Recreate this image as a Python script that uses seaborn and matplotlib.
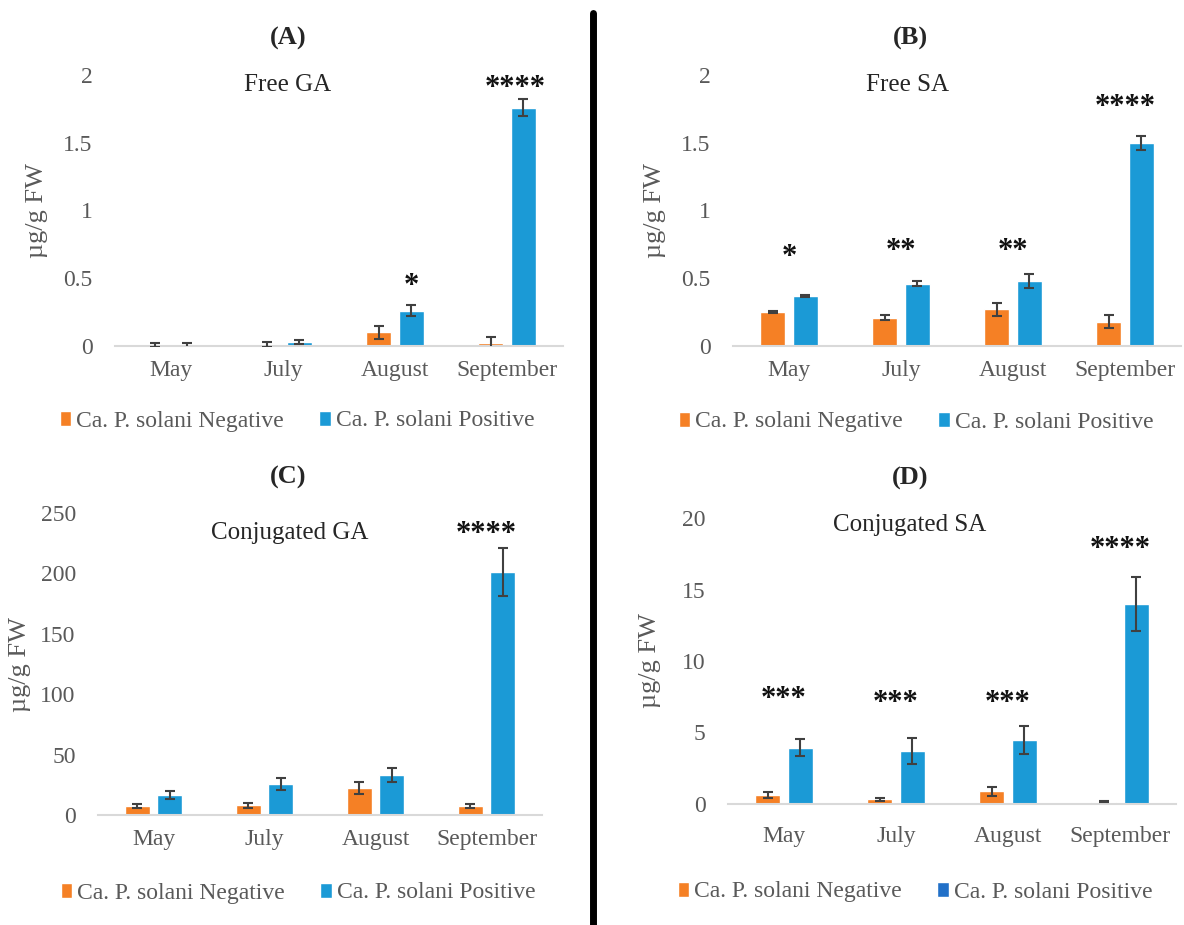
import numpy as np
import pandas as pd
import seaborn as sns
import matplotlib.pyplot as plt
from matplotlib.patches import Patch
from matplotlib.lines import Line2D
from matplotlib.ticker import FuncFormatter

sns.set_style("white")
plt.rcParams['font.family'] = ['Liberation Serif', 'DejaVu Serif']

months = ["May", "July", "August", "September"]
groups = ["Ca. P. solani Negative", "Ca. P. solani Positive"]

# Free GA
free_ga_neg = [0.01, 0.01, 0.10, 0.02]
free_ga_pos = [0.00, 0.03, 0.26, 1.76]
free_ga_neg_err = [0.015, 0.02, 0.05, 0.05]
free_ga_pos_err = [0.02, 0.015, 0.04, 0.06]
free_ga_stars = ["", "", "*", "****"]
free_ga_star_y = [0, 0, 0.44, 1.90]

# Free SA
free_sa_neg = [0.25, 0.21, 0.27, 0.18]
free_sa_pos = [0.37, 0.46, 0.48, 1.50]
free_sa_neg_err = [0.01, 0.02, 0.05, 0.05]
free_sa_pos_err = [0.01, 0.02, 0.05, 0.05]
free_sa_stars = ["*", "**", "**", "****"]
free_sa_star_y = [0.65, 0.70, 0.70, 1.76]

# Conjugated GA
conj_ga_neg = [7.5, 8.0, 22.0, 7.5]
conj_ga_pos = [16.5, 25.5, 33.0, 201.0]
conj_ga_neg_err = [2.0, 2.0, 5.0, 2.0]
conj_ga_pos_err = [3.5, 5.0, 6.0, 20.0]
conj_ga_stars = ["", "", "", "****"]
conj_ga_star_y = [0, 0, 0, 232]

# Conjugated SA
conj_sa_neg = [0.65, 0.33, 0.88, 0.16]
conj_sa_pos = [3.95, 3.72, 4.47, 14.0]
conj_sa_neg_err = [0.22, 0.12, 0.3, 0.05]
conj_sa_pos_err = [0.6, 0.9, 1.0, 1.9]
conj_sa_stars = ["***", "***", "***", "****"]
conj_sa_star_y = [7.3, 7.0, 7.0, 17.8]

neg_color = "#F58025"
pos_color = "#1B9AD6"
grey = "#595959"

W, H = 1184, 925
fig = plt.figure(figsize=(W / 100, H / 100), dpi=100)


def px(x0, y0, x1, y1):
    return [x0 / W, 1 - y1 / H, (x1 - x0) / W, (y1 - y0) / H]


panels = [
    dict(rect=px(115, 75, 563, 346), neg=free_ga_neg, pos=free_ga_pos,
         neg_err=free_ga_neg_err, pos_err=free_ga_pos_err,
         stars=free_ga_stars, star_y=free_ga_star_y, star_dx=[0, 0, 0.145, 0.07],
         ymax=2, step=0.5, letter="(A)", title="Free GA",
         letter_xy=(288, 38), title_xy=(288, 85), legend_xy=(297, 421),
         xpad=10, pos_legend=pos_color),
    dict(rect=px(733, 75, 1181, 346), neg=free_sa_neg, pos=free_sa_pos,
         neg_err=free_sa_neg_err, pos_err=free_sa_pos_err,
         stars=free_sa_stars, star_y=free_sa_star_y, star_dx=[0, 0, 0, 0],
         ymax=2, step=0.5, letter="(B)", title="Free SA",
         letter_xy=(910, 38), title_xy=(908, 85), legend_xy=(916, 422),
         xpad=10, pos_legend=pos_color),
    dict(rect=px(98, 513, 542, 815), neg=conj_ga_neg, pos=conj_ga_pos,
         neg_err=conj_ga_neg_err, pos_err=conj_ga_pos_err,
         stars=conj_ga_stars, star_y=conj_ga_star_y, star_dx=[0, 0, 0, 0],
         ymax=250, step=50, letter="(C)", title="Conjugated GA",
         letter_xy=(288, 477), title_xy=(290, 533), legend_xy=(298, 893),
         xpad=10, pos_legend=pos_color),
    dict(rect=px(728, 518, 1176, 804), neg=conj_sa_neg, pos=conj_sa_pos,
         neg_err=conj_sa_neg_err, pos_err=conj_sa_pos_err,
         stars=conj_sa_stars, star_y=conj_sa_star_y, star_dx=[0, 0, 0, 0],
         ymax=20, step=5, letter="(D)", title="Conjugated SA",
         letter_xy=(910, 478), title_xy=(910, 525), legend_xy=(915, 892),
         xpad=16, pos_legend="#2170C8"),
]

for p in panels:
    ax = fig.add_axes(p["rect"])
    df = pd.DataFrame({
        "month": months * 2,
        "group": [groups[0]] * 4 + [groups[1]] * 4,
        "value": p["neg"] + p["pos"],
    })
    sns.barplot(data=df, x="month", y="value", hue="group", order=months,
                hue_order=groups, palette=[neg_color, pos_color],
                width=0.58, gap=0.24, errorbar=None, legend=False,
                saturation=1, ax=ax)

    # error bars on top of the drawn bars (left bar = negative)
    bars = sorted([b for b in ax.patches], key=lambda b: b.get_x())
    errs = [e for pair in zip(p["neg_err"], p["pos_err"]) for e in pair]
    xs = [b.get_x() + b.get_width() / 2 for b in bars]
    ys = [b.get_height() for b in bars]
    ax.errorbar(xs, ys, yerr=errs, fmt="none", ecolor="#404040",
                elinewidth=1.5, capsize=3.8, capthick=1.5, zorder=3)

    for i, s in enumerate(p["stars"]):
        if s:
            ax.text(i + p["star_dx"][i], p["star_y"][i], s, ha="center",
                    va="center", fontsize=22, fontweight="bold",
                    color="#111111", clip_on=False)

    ax.set_ylim(0, p["ymax"])
    ax.set_xlim(-0.5, 3.5)
    ax.set_yticks(np.arange(0, p["ymax"] + p["step"] / 2, p["step"]))
    ax.yaxis.set_major_formatter(FuncFormatter(lambda v, _: f"{v:g}"))
    ax.set_xlabel("")
    ax.set_ylabel("µg/g FW", fontsize=19, color=grey)
    ax.yaxis.set_label_coords(-0.15, 0.5)
    ax.tick_params(axis="y", length=0, pad=16, labelsize=17, labelcolor=grey)
    ax.tick_params(axis="x", length=0, pad=p["xpad"], labelsize=17,
                   labelcolor=grey)
    for side in ["left", "top", "right"]:
        ax.spines[side].set_visible(False)
    ax.spines["bottom"].set_color("#D9D9D9")
    ax.spines["bottom"].set_linewidth(1.5)

    fig.text(p["letter_xy"][0] / W, 1 - p["letter_xy"][1] / H, p["letter"],
             ha="center", va="center", fontsize=19, fontweight="bold")
    fig.text(p["title_xy"][0] / W, 1 - p["title_xy"][1] / H, p["title"],
             ha="center", va="center", fontsize=18)

    handles = [Patch(facecolor=neg_color), Patch(facecolor=p["pos_legend"])]
    ax.legend(handles, groups, loc="center",
              bbox_to_anchor=(p["legend_xy"][0] / W, 1 - p["legend_xy"][1] / H),
              bbox_transform=fig.transFigure, ncol=2, frameon=False,
              fontsize=17, labelcolor=grey, handlelength=0.5,
              handleheight=0.6, handletextpad=0.2, columnspacing=1.5)

fig.add_artist(Line2D([593 / W, 593 / W], [1 - 13 / H, 0], color="black",
                      lw=5, transform=fig.transFigure))

fig.savefig("out.png", dpi=100)
